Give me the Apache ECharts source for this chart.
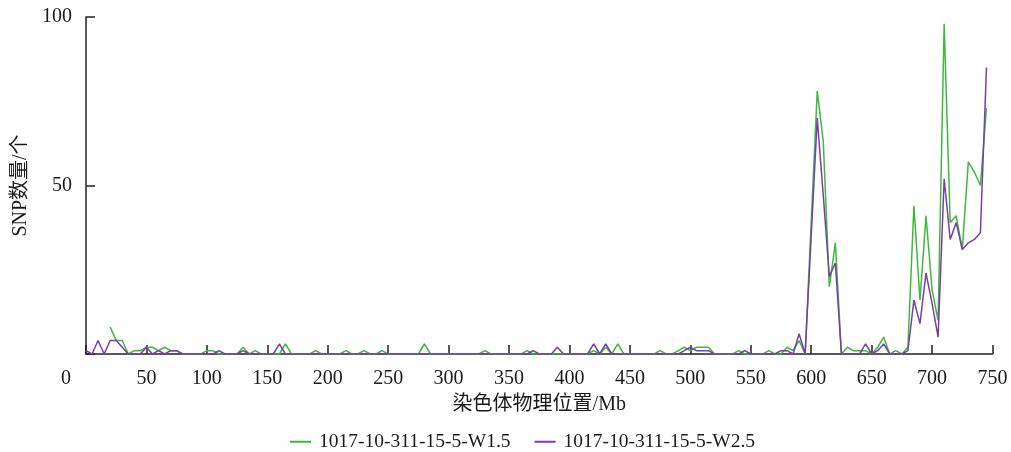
<!DOCTYPE html>
<html>
<head>
<meta charset="utf-8">
<script src="https://cdn.jsdelivr.net/npm/echarts@6/dist/echarts.min.js"></script>
<style>
html,body{margin:0;padding:0;background:#fff;}
#chart{width:1011px;height:452px;}
</style>
</head>
<body>
<div id="chart"></div>
<script>
// Chromosome physical position (Mb)
const positions = [
  0,5,10,15,20,25,30,35,40,45,50,55,60,65,70,75,80,85,90,95,
  100,105,110,115,120,125,130,135,140,145,150,155,160,165,170,175,180,185,190,195,
  200,205,210,215,220,225,230,235,240,245,250,255,260,265,270,275,280,285,290,295,
  300,305,310,315,320,325,330,335,340,345,350,355,360,365,370,375,380,385,390,395,
  400,405,410,415,420,425,430,435,440,445,450,455,460,465,470,475,480,485,490,495,
  500,505,510,515,520,525,530,535,540,545,550,555,560,565,570,575,580,585,590,595,
  600,605,610,615,620,625,630,635,640,645,650,655,660,665,670,675,680,685,690,695,
  700,705,710,715,720,725,730,735,740,745
];
// SNP counts, 1017-10-311-15-5-W1.5
const seriesW15 = [
  null,null,null,null,8,4,4,0,1,1,2,2,1,2,1,1,0,0,0,0,
  1,1,0,0,0,0,2,0,1,0,0,0,0,3,0,0,0,0,1,0,
  0,0,0,1,0,0,1,0,0,1,0,0,0,0,0,0,3,0,0,0,
  0,0,0,0,0,0,1,0,0,0,0,0,0,1,0,0,0,0,0,0,
  0,0,0,0,1,0,2,0,3,0,0,0,0,0,0,1,0,0,1,2,
  1,2,2,2,0,0,0,0,1,0,0,0,0,1,0,0,2,1,4,0,
  null,78,63,20,33,0,2,1,1,1,0,2,5,0,1,0,2,44,16,41,
  19,10,98,39,41,31,57,54,50,73
];
// SNP counts, 1017-10-311-15-5-W2.5
const seriesW25 = [
  1,0,4,0,4,4,2,0,0,0,2,0,1,0,1,1,0,0,0,0,
  0,0,1,0,0,0,1,0,0,0,0,0,3,0,0,0,0,0,0,0,
  0,0,0,0,0,0,0,0,0,0,0,0,0,0,0,0,0,0,0,0,
  0,0,0,0,0,0,0,0,0,0,0,0,0,0,1,0,0,0,2,0,
  0,0,0,0,3,0,3,0,0,0,0,0,0,0,0,0,0,0,0,1,
  2,1,1,1,0,0,0,0,0,1,0,0,0,0,0,1,1,0,6,0,
  null,70,47,23,27,0,0,0,0,3,0,1,3,0,0,0,1,16,9,24,
  15,5,52,34,39,31,33,34,36,85
];
const seriesNames = ['1017-10-311-15-5-W1.5', '1017-10-311-15-5-W2.5'];
const xTickValues = [0,50,100,150,200,250,300,350,400,450,500,550,600,650,700,750];
const yTickValues = [0,50,100];
const xAxisName = '染色体物理位置/Mb';
const yAxisName = 'SNP数量/个';

const FONT = "'Liberation Serif', 'Times New Roman', 'Noto Sans CJK SC', serif";
const colors = ['#3fb83f', '#7a3fa6'];

function pairs(ys) { return positions.map((x, i) => [x, ys[i]]); }

const chart = echarts.init(document.getElementById('chart'), null, {renderer: 'canvas'});
chart.setOption({
  animation: false,
  backgroundColor: '#fff',
  grid: {left: 86, right: 18.5, top: 17, bottom: 98, containLabel: false},
  legend: {
    top: 427,
    left: 285,
    itemWidth: 21,
    itemHeight: 2,
    itemGap: 24,
    icon: 'rect',
    textStyle: {fontFamily: FONT, fontSize: 19.5, color: '#1a1a1a', padding: [0, 0, 0, 3]},
    data: seriesNames
  },
  xAxis: {
    type: 'value',
    min: xTickValues[0],
    max: xTickValues[xTickValues.length - 1],
    interval: xTickValues[1] - xTickValues[0],
    name: xAxisName,
    nameLocation: 'middle',
    nameGap: 41,
    nameTextStyle: {fontFamily: FONT, fontSize: 20, color: '#1a1a1a'},
    axisLine: {lineStyle: {color: '#222', width: 1.5}},
    axisTick: {inside: true, length: 9, lineStyle: {color: '#222', width: 1.5}},
    splitLine: {show: false},
    axisLabel: {
      margin: 15,
      fontFamily: FONT, fontSize: 20, color: '#1a1a1a',
      formatter: function (v) { return v === 0 ? '{z|0}' : String(v); },
      rich: {z: {fontFamily: FONT, fontSize: 20, color: '#1a1a1a', padding: [0, 40, 0, 0]}}
    }
  },
  yAxis: {
    type: 'value',
    min: yTickValues[0],
    max: yTickValues[yTickValues.length - 1],
    interval: yTickValues[1] - yTickValues[0],
    name: yAxisName,
    nameLocation: 'middle',
    nameGap: 55,
    nameTextStyle: {fontFamily: FONT, fontSize: 20, color: '#1a1a1a'},
    axisLine: {show: true, lineStyle: {color: '#222', width: 1.5}},
    axisTick: {show: true, inside: true, length: 9, lineStyle: {color: '#222', width: 1.5}},
    splitLine: {show: false},
    axisLabel: {
      margin: 14,
      fontFamily: FONT, fontSize: 20, color: '#1a1a1a',
      formatter: function (v) { return v === 0 ? '' : String(v); }
    }
  },
  series: [
    {
      name: seriesNames[0], type: 'line', data: pairs(seriesW15),
      showSymbol: false, symbol: 'none', connectNulls: true,
      lineStyle: {color: colors[0], width: 1.5}, itemStyle: {color: colors[0]}
    },
    {
      name: seriesNames[1], type: 'line', data: pairs(seriesW25),
      showSymbol: false, symbol: 'none', connectNulls: true,
      lineStyle: {color: colors[1], width: 1.5}, itemStyle: {color: colors[1]}
    }
  ]
});
</script>
</body>
</html>
